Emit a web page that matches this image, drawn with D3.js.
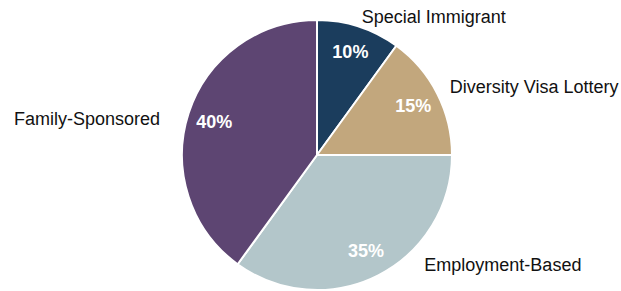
<!DOCTYPE html>
<html><head><meta charset="utf-8">
<script src="https://cdn.jsdelivr.net/npm/d3@7"></script>
<style>body{margin:0;background:#fff}svg{display:block}</style>
</head><body><svg id="c" width="621" height="291"></svg>
<script>
const categories = ["Special Immigrant","Diversity Visa Lottery","Employment-Based","Family-Sponsored"];
const values = [10,15,35,40];
const colors = ["#1b3d5d","#c2a77d","#b3c6ca","#5d4572"];

const W=621,H=291,cx=317,cy=155,R=135;
const svg=d3.select("#c");
const g=svg.append("g").attr("transform",`translate(${cx},${cy})`);
const data=categories.map((c,i)=>({c,v:values[i],col:colors[i]}));
const pie=d3.pie().value(d=>d.v).sort(null);
const arcs=pie(data);
const arc=d3.arc().innerRadius(0).outerRadius(R);
g.selectAll("path").data(arcs).join("path")
 .attr("d",arc).attr("fill",d=>d.data.col)
 .attr("stroke","#fff").attr("stroke-width",2).attr("stroke-linejoin","round");

const inner=d3.arc().innerRadius(R*0.8).outerRadius(R*0.8);
g.selectAll("text.pct").data(arcs).join("text").attr("class","pct")
 .attr("transform",d=>`translate(${inner.centroid(d)})`)
 .attr("text-anchor","middle").attr("dominant-baseline","central")
 .attr("fill","#fff").attr("font-family","Liberation Sans, Arial, sans-serif")
 .attr("font-weight","bold").attr("font-size","18px")
 .text(d=>d.data.v+"%");

// outside label layout: radius and angular nudge (radians) per slice
const labelLayout=[{r:145,da:0},{r:149,da:0},{r:154,da:-0.30},{r:161,da:-0.09}];
g.selectAll("text.lab").data(arcs).join("text").attr("class","lab")
 .each(function(d,i){
   const a=(d.startAngle+d.endAngle)/2+labelLayout[i].da;
   const r=labelLayout[i].r;
   const x=Math.sin(a)*r,y=-Math.cos(a)*r;
   d3.select(this).attr("x",x).attr("y",y)
     .attr("text-anchor",x>=0?"start":"end");
 })
 .attr("dominant-baseline","central")
 .attr("fill","#111").attr("font-family","Liberation Sans, Arial, sans-serif")
 .attr("font-size","18px")
 .text(d=>d.data.c);
</script></body></html>
